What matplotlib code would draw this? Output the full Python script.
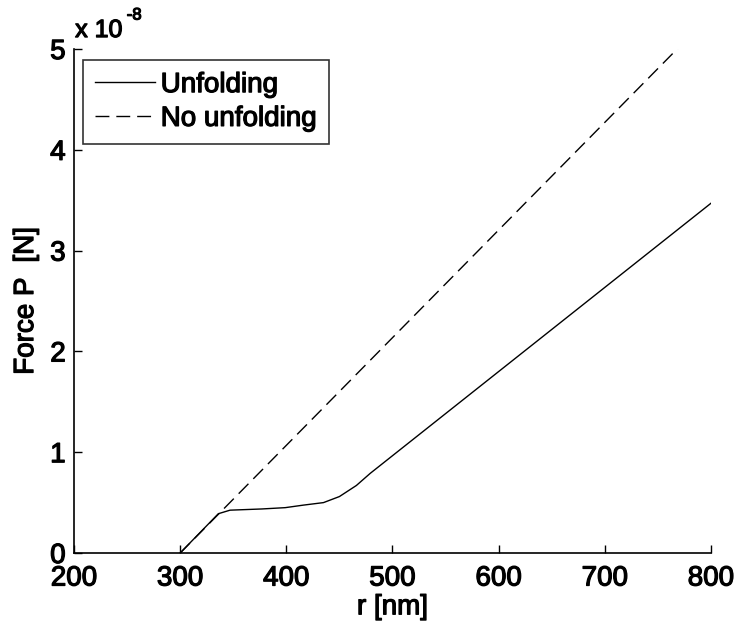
import matplotlib
matplotlib.use("Agg")
import matplotlib.pyplot as plt
import matplotlib.patheffects as pe

plt.rcParams['font.family'] = ['Liberation Sans', 'DejaVu Sans']

# Force in units of 1e-8 N versus indentation r in nm
r_unfold = [300, 336, 347, 377, 399, 416, 435, 450, 466, 479, 800]
f_unfold = [0.0, 0.39, 0.425, 0.437, 0.45, 0.475, 0.50, 0.56, 0.67, 0.79, 3.47]

r_nounfold = [300, 770]
f_nounfold = [0.0, 5.02]

x_ticks = [200, 300, 400, 500, 600, 700, 800]
y_ticks = [0, 1, 2, 3, 4, 5]

heavy = [pe.withStroke(linewidth=0.9, foreground='black')]

fig = plt.figure(figsize=(7.37, 6.26), dpi=100)
ax = fig.add_axes([0.1004, 0.1166, 0.8643, 0.8051])

ax.plot(r_unfold, f_unfold, color='black', linewidth=1.0, label='Unfolding')
ax.plot(r_nounfold, f_nounfold, color='black', linewidth=1.0,
        linestyle=(0, (10, 5)), label='No unfolding')

ax.set_xlim(200, 800)
ax.set_ylim(0, 5)
ax.set_xticks(x_ticks)
ax.set_yticks(y_ticks)
ax.set_xticklabels([str(v) for v in x_ticks])
ax.set_yticklabels([str(v) for v in y_ticks])

for side in ('top', 'right'):
    ax.spines[side].set_visible(False)
for side in ('left', 'bottom'):
    ax.spines[side].set_linewidth(1.2)

ax.tick_params(direction='in', length=6, width=1.0, labelsize=20)
ax.tick_params(axis='x', pad=9)
ax.tick_params(axis='y', pad=6)
for lbl in ax.get_xticklabels() + ax.get_yticklabels():
    lbl.set_path_effects(heavy)

ax.set_xlabel('r [nm]', fontsize=20, labelpad=2, path_effects=heavy)
ax.set_ylabel('Force P  [N]', fontsize=20, labelpad=8, path_effects=heavy)

# exponent label above the y axis
fig.text(0.102, 0.952, 'x 10', fontsize=18, ha='left', va='center',
         path_effects=heavy)
fig.text(0.172, 0.976, '-8', fontsize=12, ha='left', va='center',
         path_effects=heavy)

leg = ax.legend(loc='upper left', bbox_to_anchor=(0.014, 0.979),
                fontsize=20, frameon=True, fancybox=False,
                handlelength=2.15, handletextpad=0.2, borderpad=0.45,
                labelspacing=0.28, borderaxespad=0.0)
leg.get_frame().set_edgecolor('black')
leg.get_frame().set_linewidth(1.2)
for t in leg.get_texts():
    t.set_path_effects(heavy)

fig.savefig('out.png', dpi=100)
